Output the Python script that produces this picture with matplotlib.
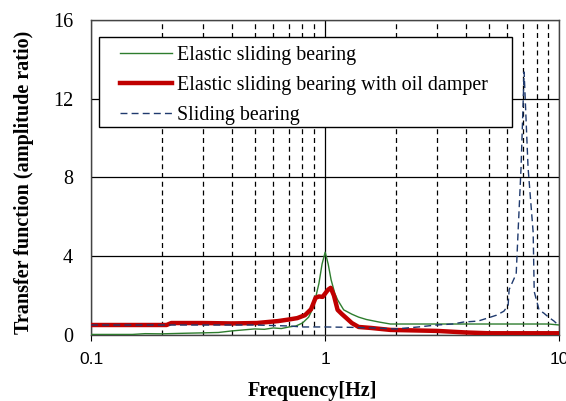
import matplotlib
matplotlib.use("Agg")
import matplotlib.pyplot as plt
from matplotlib.patches import Rectangle
import numpy as np

# Elastic sliding bearing (green)
freq_elastic = [0.1, 0.15, 0.17, 0.2, 0.25, 0.3, 0.35, 0.4, 0.5, 0.55, 0.6, 0.65, 0.7, 0.75,
                0.8, 0.85, 0.89, 0.94, 0.97, 1.0, 1.03, 1.06, 1.1, 1.13, 1.2, 1.3, 1.39,
                1.5, 1.7, 1.9, 2.3, 3.0, 4.0, 5.0, 6.0, 7.0, 8.0, 9.0, 10.0]
amp_elastic = [0.02, 0.02, 0.06, 0.05, 0.08, 0.1, 0.12, 0.2, 0.3, 0.28, 0.35, 0.32, 0.4, 0.45,
               0.6, 0.9, 1.4, 2.6, 3.6, 4.2, 3.6, 2.8, 2.1, 1.78, 1.27, 1.05, 0.9,
               0.78, 0.65, 0.55, 0.55, 0.55, 0.55, 0.55, 0.55, 0.55, 0.55, 0.55, 0.5]

# Elastic sliding bearing with oil damper (red)
freq_damper = [0.1, 0.15, 0.21, 0.22, 0.3, 0.4, 0.51, 0.63, 0.7, 0.76, 0.82, 0.87, 0.91,
               0.94, 0.975, 1.0, 1.03, 1.056, 1.09, 1.13, 1.18, 1.23, 1.3, 1.39, 1.57,
               1.9, 2.5, 3.0, 4.0, 5.0, 6.0, 7.0, 8.0, 9.0, 10.0]
amp_damper = [0.5, 0.5, 0.5, 0.6, 0.6, 0.58, 0.6, 0.7, 0.78, 0.85, 1.0, 1.3, 1.88,
              1.95, 1.93, 2.1, 2.3, 2.39, 2.0, 1.27, 1.05, 0.86, 0.6, 0.4, 0.35,
              0.25, 0.22, 0.2, 0.12, 0.08, 0.08, 0.08, 0.08, 0.08, 0.08]

# Sliding bearing (blue dashed)
freq_sliding = [0.1, 0.2, 0.3, 0.5, 0.7, 0.8, 1.0, 1.3, 1.6, 2.0, 2.5, 3.0, 3.5, 3.9,
                4.5, 4.97, 5.4, 5.8, 6.05, 6.11, 6.55, 6.67, 6.87, 7.08, 7.36, 7.74,
                7.82, 8.2, 8.6, 9.0, 9.5, 9.9, 10.0]
amp_sliding = [0.5, 0.5, 0.5, 0.5, 0.45, 0.4, 0.4, 0.38, 0.35, 0.3, 0.4, 0.5, 0.55, 0.65,
               0.7, 0.86, 1.0, 1.2, 1.5, 2.3, 3.1, 5.2, 8.5, 13.36, 8.5, 5.2,
               2.2, 1.27, 1.1, 0.9, 0.7, 0.5, 0.45]

x_ticks = [0.1, 1, 10]
x_tick_labels = ["0.1", "1", "10"]
y_ticks = [0, 4, 8, 12, 16]

labels = ["Elastic sliding bearing",
          "Elastic sliding bearing with oil damper",
          "Sliding bearing"]

serif = ["Liberation Serif", "DejaVu Serif"]
sans = ["Liberation Sans", "DejaVu Sans"]

fig = plt.figure(figsize=(5.66, 4.01), dpi=100)
ax = fig.add_axes([0.161, 0.165, 0.827, 0.785])

ax.plot(freq_elastic, amp_elastic, color="#2e7d2e", lw=1.0, label=labels[0], zorder=3)
ax.plot(freq_damper, amp_damper, color="#c00000", lw=3.2, label=labels[1], zorder=4)
ax.plot(freq_sliding, amp_sliding, color="#1f3a6e", lw=1.0, ls=(0, (5, 3)),
        label=labels[2], zorder=5)

ax.set_xscale("log")
ax.set_xlim(0.1, 10)
ax.set_ylim(0, 16)
ax.set_xticks(x_ticks)
ax.set_xticklabels(x_tick_labels, fontfamily=sans, fontsize=12.5)
ax.set_yticks(y_ticks)
ax.set_yticklabels([str(v) for v in y_ticks], fontfamily=serif, fontsize=14.5)
ax.minorticks_on()
ax.yaxis.set_minor_locator(plt.NullLocator())
ax.tick_params(axis="x", which="minor", length=0)
ax.tick_params(axis="x", which="major", length=4, direction="out", pad=8)
ax.tick_params(axis="y", which="major", length=0, pad=13)

ax.grid(True, which="major", color="black", lw=0.9, ls="-")
ax.grid(True, which="minor", axis="x", color="black", lw=0.9, ls=(0, (4, 3)))
ax.set_axisbelow(True)
for s in ax.spines.values():
    s.set_color("#444444")
    s.set_linewidth(1.0)

ax.set_xlabel("Frequency[Hz]", fontfamily=serif, fontweight="bold", fontsize=14.5)
ax.xaxis.set_label_coords(0.472, -0.148)
ax.set_ylabel("Transfer function (amplitude ratio)", fontfamily=serif,
              fontweight="bold", fontsize=14.5)
ax.yaxis.set_label_coords(-0.122, 0.483)

# legend box drawn separately so the padding matches the original
ax.add_patch(Rectangle((0.017, 0.660), 0.882, 0.286, transform=ax.transAxes,
                       facecolor="white", edgecolor="black", lw=1.0, zorder=6))
leg = ax.legend(loc="upper left", bbox_to_anchor=(0.061, 0.918), frameon=False,
                prop={"family": serif, "size": 14.4}, handlelength=2.6,
                handletextpad=0.25, labelspacing=0.55, borderpad=0, borderaxespad=0)
leg.set_zorder(7)

fig.savefig("out.png", dpi=100)
